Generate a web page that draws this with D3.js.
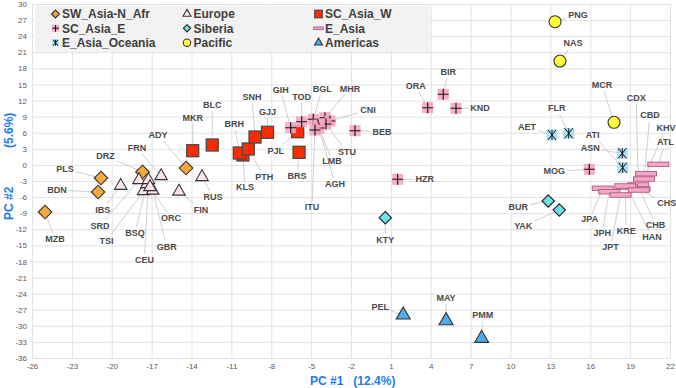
<!DOCTYPE html>
<html><head><meta charset="utf-8">
<script src="https://cdn.jsdelivr.net/npm/d3@7"></script>
<style>
body{margin:0;background:#fff}
svg{display:block;font-family:"Liberation Sans",Arial,sans-serif}
</style>
</head><body>
<svg id="chart" width="676" height="388"></svg>
<script>
// ---- data (PC1, PC2) ----
const xTicks = d3.range(-26, 23, 3);
const yTicks = d3.range(-36, 31, 3);
const xTitle = "PC #1   (12.4%)";
const yTitle = ["PC #2", "(5.6%)"];

const swAsiaNAfr = [["MZB",-25.02,-8.78],["BDN",-21.03,-5.05],["PLS",-20.81,-2.44],["DRZ",-17.69,-1.32],["ADY",-14.41,-0.58]];
const europe = [["IBS",-19.33,-3.88],["FRN",-16.29,-2.07],["RUS",-13.21,-2.25],["FIN",-14.94,-4.96],["SRD",-17.95,-2.81],
  ["TSI",-17.61,-4.86],["BSQ",-17.35,-3.56],["CEU",-17.24,-2.81],["GBR",-16.92,-4.77],["ORC",-17.12,-4.12]];
const scAsiaW = [["MKR",-13.91,2.65],["BLC",-12.44,3.71],["KLS",-10.13,1.85],["BRH",-10.4,2.22],["PTH",-9.73,2.97],
  ["SNH",-9.22,5.2],["GJJ",-8.28,6.08],["PJL",-6.01,6.19],["BRS",-5.91,2.35]];
const scAsiaE = [["GIH",-6.54,6.94],["TOD",-5.71,8.06],["BGL",-4.84,8.5],["MHR",-3.96,8.8],["CNI",-3.58,8.19],
  ["STU",-3.88,7.63],["LMB",-4.48,7.44],["AGH",-4.41,6.88],["ITU",-4.71,6.51],["BEB",-1.7,6.38],
  ["ORA",3.77,10.67],["BIR",4.94,13.16],["KND",5.9,10.55],["HZR",1.51,-2.68],["MOG",15.93,-0.82]];
const siberia = [["KTY",0.58,-9.84],["BUR",12.84,-6.73],["YAK",13.67,-8.41]];
const eAsia = [["ATL",21.12,0.11],["KHV",20.19,-1.64],["CBD",20.04,-2.63],["CDX",19.61,-3.75],["CHB",19.71,-4.49],
  ["HAN",18.76,-4.12],["KRE",18.63,-3.93],["CHS",19.65,-4.68],["JPA",16.94,-4.36],["JPH",17.43,-5.0],["JPT",18.28,-5.61]];
const eAsiaOceania = [["AET",13.12,5.58],["FLR",14.38,5.89],["ASN",18.41,2.16],["ATI",18.44,-0.52]];
const pacific = [["PNG",13.35,26.7],["NAS",13.72,19.37],["MCR",17.79,7.94]];
const americas = [["PEL",1.93,-27.98],["MAY",5.15,-29.05],["PMM",7.83,-32.33]];

// ---- layout: label offsets (px) relative to marker ----
const labelOffset = {
  MZB:[10,27],BDN:[-41,-2],PLS:[-36,-9],DRZ:[-37,-16],ADY:[-28,-33],
  IBS:[-18,24],FRN:[-24,-28],RUS:[11,20],FIN:[22,18],SRD:[-39,46],TSI:[-37,50],BSQ:[-12,49],CEU:[-4,80],GBR:[14,56],ORC:[21,31],
  MKR:[0,-33],BLC:[0,-40],BRH:[-5,-29],KLS:[2,32],PTH:[16,28],SNH:[-3,-40],GJJ:[0,-20],PJL:[-22,19],BRS:[-2,24],
  GIH:[-10,-38],TOD:[0,-25],BGL:[9,-30],MHR:[25,-29],CNI:[38,-11],STU:[21,28],LMB:[14,36],AGH:[16,56],ITU:[-3,77],BEB:[27,1],
  ORA:[-12,-22],BIR:[5,-22],KND:[24,0],HZR:[27,0],MOG:[-35,2],
  KTY:[0,22],BUR:[-30,6],YAK:[-36,16],
  AET:[-25,-8],FLR:[-12,-25],ATI:[-30,-33],ASN:[-32,-5],
  PNG:[23,-7],NAS:[13,-18],MCR:[-12,-37],
  ATL:[7,-22],KHV:[20,-46],CBD:[6,-64],CDX:[-2,-87],CHS:[28,13],CHB:[16,36],HAN:[25,50],KRE:[1,45],JPT:[-10,52],JPH:[-7,41],JPA:[-13,31],
  PEL:[-23,-8],MAY:[0,-23],PMM:[1,-23]
};

const groups = [
  {name:"SW_Asia-N_Afr", data:swAsiaNAfr, shape:"diamond", fill:"#f5a93c", stroke:"#333", s:6.8},
  {name:"Europe", data:europe, shape:"triangle", fill:"#fde6ea", stroke:"#333", s:12.5},
  {name:"SC_Asia_W", data:scAsiaW, shape:"square", fill:"#ff2b00", stroke:"#4a4a4a", s:12},
  {name:"SC_Asia_E", data:scAsiaE, shape:"cross", fill:"#f7a4c2", stroke:"#111", s:11},
  {name:"Siberia", data:siberia, shape:"diamond", fill:"#6fe3e3", stroke:"#222", s:6.2},
  {name:"E_Asia", data:eAsia, shape:"bar", fill:"#f4a8c8", stroke:"#b05a84", s:21},
  {name:"E_Asia_Oceania", data:eAsiaOceania, shape:"star", fill:"#abdff5", stroke:"#111", s:11},
  {name:"Pacific", data:pacific, shape:"circle", fill:"#ffff3a", stroke:"#333", s:6},
  {name:"Americas", data:americas, shape:"triangle", fill:"#4badef", stroke:"#333", s:14}
];

const svg = d3.select("#chart");
const x = d3.scaleLinear().domain([-26,22]).range([32,670]);
const y = d3.scaleLinear().domain([-36,30]).range([358,4]);

// grid + axes
const gx = svg.append("g").attr("transform","translate(0,358)")
  .call(d3.axisBottom(x).tickValues(xTicks).tickSize(-354).tickFormat(d3.format("d")).tickPadding(5));
const gy = svg.append("g").attr("transform","translate(32,0)")
  .call(d3.axisLeft(y).tickValues(yTicks).tickSize(-638).tickFormat(d3.format("d")).tickPadding(5));
[gx,gy].forEach(g=>{
  g.select(".domain").remove();
  g.selectAll(".tick line").attr("stroke","#e3e3e3").attr("stroke-width",1);
  g.selectAll(".tick text").attr("fill","#5a5a5a").style("font-size","8px").style("font-family","Liberation Sans, Arial, sans-serif");
});
gx.selectAll(".tick text").text(d=>String(d));
gy.selectAll(".tick text").text(d=>String(d));

// marker drawing
function drawMarker(sel, g, scale){
  const s = g.s*scale;
  if(g.shape==="diamond"){
    sel.append("path").attr("d",`M0,${-s}L${s},0L0,${s}L${-s},0Z`)
      .attr("fill",g.fill).attr("stroke",g.stroke).attr("stroke-width",1.1);
  } else if(g.shape==="triangle"){
    const h = s*Math.sqrt(3)/2;
    sel.append("path").attr("d",`M0,${-h*2/3}L${s/2},${h/3}L${-s/2},${h/3}Z`)
      .attr("fill",g.fill).attr("stroke",g.stroke).attr("stroke-width",1.1);
  } else if(g.shape==="square"){
    sel.append("rect").attr("x",-s/2).attr("y",-s/2).attr("width",s).attr("height",s)
      .attr("fill",g.fill).attr("stroke",g.stroke).attr("stroke-width",1.3);
  } else if(g.shape==="cross"){
    sel.append("rect").attr("x",-s/2).attr("y",-s/2).attr("width",s).attr("height",s)
      .attr("fill",g.fill).attr("opacity",0.9);
    sel.append("path").attr("d",`M${-s/2},0H${s/2}M0,${-s/2}V${s/2}`)
      .attr("stroke",g.stroke).attr("stroke-width",1.1);
  } else if(g.shape==="star"){
    sel.append("rect").attr("x",-s/2).attr("y",-s/2).attr("width",s).attr("height",s)
      .attr("fill",g.fill);
    const a=s*0.36;
    sel.append("path").attr("d",`M${-a},${-s/2+0.5}L${a},${s/2-0.5}M${a},${-s/2+0.5}L${-a},${s/2-0.5}M0,${-s/2+0.5}V${s/2-0.5}`)
      .attr("stroke",g.stroke).attr("stroke-width",1);
  } else if(g.shape==="circle"){
    sel.append("circle").attr("r",s).attr("fill",g.fill).attr("stroke",g.stroke).attr("stroke-width",1.1);
  } else if(g.shape==="bar"){
    const hh = scale<1 ? 2.6 : 4.5;
    sel.append("rect").attr("x",-s/2).attr("y",-hh/2).attr("width",s).attr("height",hh)
      .attr("fill",g.fill).attr("stroke",g.stroke).attr("stroke-width",0.9);
  }
}

// legend
const leg = svg.append("g");
leg.append("rect").attr("x",35).attr("y",6).attr("width",395).attr("height",46).attr("fill","#f2f2f2");
const colX = [55.5,187,318.5], rowY = [14,28.3,42.7];
groups.forEach((g,i)=>{
  const cx = colX[i%3], cy = rowY[Math.floor(i/3)];
  const m = leg.append("g").attr("transform",`translate(${cx},${cy})`);
  const scale = g.shape==="bar" ? 0.45 : (g.shape==="diamond" ? 0.58 : 0.62);
  drawMarker(m, g, g.shape==="triangle" ? 8/g.s : scale);
  leg.append("text").attr("x",cx+6.5).attr("y",cy).attr("dy","0.36em")
    .attr("fill","#404040").style("font-size","12px").style("font-weight","bold").text(g.name);
});

// leader lines + labels
const all = [];
groups.forEach(g=>g.data.forEach(d=>all.push({g, id:d[0], px:x(d[1]), py:y(d[2])})));
const lines = svg.append("g");
const marks = svg.append("g");
const labels = svg.append("g");
all.forEach(p=>{
  const off = labelOffset[p.id]; if(!off) return;
  const lx = p.px+off[0], ly = p.py+off[1];
  const t = labels.append("text").attr("x",lx).attr("y",ly).attr("dy","0.35em").attr("text-anchor","middle")
    .attr("fill","#4a4a4a").style("font-size","9px").style("font-weight","bold").text(p.id);
  const w = t.node().getComputedTextLength()/2+2, h = 6;
  const dx = p.px-lx, dy = p.py-ly;
  let k = Math.min(Math.abs(dx)>0? w/Math.abs(dx):Infinity, Math.abs(dy)>0? h/Math.abs(dy):Infinity);
  if(k<1){
    lines.append("line").attr("x1",lx+dx*k).attr("y1",ly+dy*k).attr("x2",p.px).attr("y2",p.py)
      .attr("stroke","#c4c4c4").attr("stroke-width",0.8);
  }
});
groups.forEach(g=>{
  g.data.forEach(d=>{
    const m = marks.append("g").attr("transform",`translate(${x(d[1])},${y(d[2])})`);
    drawMarker(m, g, 1);
  });
});

// axis titles
svg.append("text").attr("x",310).attr("y",385).attr("fill","#1e7cf2")
  .style("font-size","12px").style("font-weight","bold").style("white-space","pre").text(xTitle);
svg.append("text").attr("transform","translate(13,220) rotate(-90)").attr("fill","#1e7cf2")
  .style("font-size","12px").style("font-weight","bold").text(yTitle[0]);
svg.append("text").attr("transform","translate(13,148) rotate(-90)").attr("fill","#1e7cf2")
  .style("font-size","12px").style("font-weight","bold").text(yTitle[1]);
</script>
</body></html>
